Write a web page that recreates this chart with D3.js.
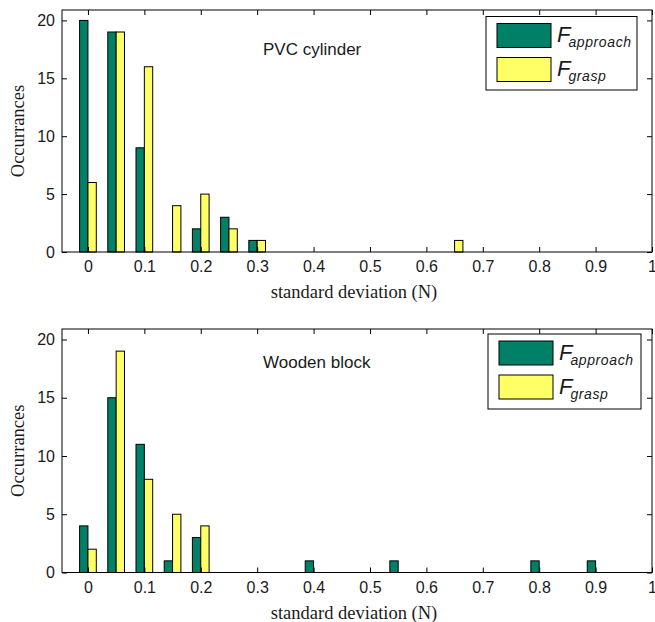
<!DOCTYPE html>
<html lang="en">
  <head>
    <meta charset="UTF-8" />
    <title>Standard deviation histograms</title>
    <script src="https://cdnjs.cloudflare.com/ajax/libs/d3/7.8.5/d3.min.js"></script>
    <style>
      body { margin: 0; background: #fff; }
      svg text { fill: #1a1a1a; }
      .tick-label { font-family: "Liberation Sans", Arial, sans-serif; font-size: 16px; }
      .axis-label { font-family: "Liberation Serif", "Times New Roman", serif; font-size: 18.5px; }
      .panel-title { font-family: "Liberation Sans", Arial, sans-serif; font-size: 17px; }
      .legend-text { font-family: "Liberation Sans", Arial, sans-serif; font-style: italic; }
    </style>
  </head>

  <body>
    <div id="chart"></div>

    <script>
      /** Data */
      const bins = [0, 0.05, 0.1, 0.15, 0.2, 0.25, 0.3, 0.35, 0.4, 0.45, 0.5,
                    0.55, 0.6, 0.65, 0.7, 0.75, 0.8, 0.85, 0.9, 0.95, 1.0];
      const pvcApproach = [20, 19, 9, 0, 2, 3, 1, 0, 0, 0, 0, 0, 0, 0, 0, 0, 0, 0, 0, 0, 0];
      const pvcGrasp    = [6, 19, 16, 4, 5, 2, 1, 0, 0, 0, 0, 0, 0, 1, 0, 0, 0, 0, 0, 0, 0];
      const woodApproach = [4, 15, 11, 1, 3, 0, 0, 0, 1, 0, 0, 1, 0, 0, 0, 0, 1, 0, 1, 0, 0];
      const woodGrasp    = [2, 19, 8, 5, 4, 0, 0, 0, 0, 0, 0, 0, 0, 0, 0, 0, 0, 0, 0, 0, 0];
      const xTicks = [0, 0.1, 0.2, 0.3, 0.4, 0.5, 0.6, 0.7, 0.8, 0.9, 1];
      const yTicks = [0, 5, 10, 15, 20];
      const seriesNames = ["approach", "grasp"];
      const panelTitles = ["PVC cylinder", "Wooden block"];

      /** Graph configs */
      const width = 655;
      const height = 622;
      const colors = ["#008066", "#ffff66"];
      const barW = 0.0148; // width of one bar in data units
      const tickLen = 5;

      const panels = [
        { title: panelTitles[0], series: [pvcApproach, pvcGrasp], top: 10, bottom: 252, titleY: 55,
          legend: { x: 486, y: 16.5, w: 151, h: 73.5 } },
        { title: panelTitles[1], series: [woodApproach, woodGrasp], top: 329, bottom: 572.5, titleY: 368,
          legend: { x: 488, y: 334, w: 153, h: 75 } },
      ];
      const left = 62;
      const right = 652;

      const svg = d3.select("#chart").append("svg")
        .attr("width", width).attr("height", height);

      panels.forEach((p) => {
        const x = d3.scaleLinear().domain([-0.046, 1]).range([left, right]);
        const y = d3.scaleLinear().domain([0, 20.9]).range([p.bottom, p.top]);
        const g = svg.append("g");

        /** Bars */
        p.series.forEach((vals, si) => {
          const data = bins.map((b, i) => ({ b, v: vals[i] })).filter((d) => d.v > 0);
          g.append("g").selectAll("rect").data(data).enter().append("rect")
            .attr("x", (d) => x(si === 0 ? d.b - barW : d.b))
            .attr("width", (d) => x(d.b + barW) - x(d.b))
            .attr("y", (d) => y(d.v))
            .attr("height", (d) => y(0) - y(d.v))
            .attr("fill", colors[si])
            .attr("stroke", "#000")
            .attr("stroke-width", 1);
        });

        /** Axes: ticks inward on all four sides */
        const axBottom = d3.axisBottom(x).tickValues(xTicks).tickSizeInner(-tickLen).tickSizeOuter(0)
          .tickPadding(9).tickFormat((d) => d3.format("")(d));
        const axTop = d3.axisTop(x).tickValues(xTicks).tickSizeInner(-tickLen).tickSizeOuter(0).tickFormat("");
        const axLeft = d3.axisLeft(y).tickValues(yTicks).tickSizeInner(-tickLen).tickSizeOuter(0).tickPadding(7);
        const axRight = d3.axisRight(y).tickValues(yTicks).tickSizeInner(-tickLen).tickSizeOuter(0).tickFormat("");

        [[axBottom, `translate(0,${p.bottom})`], [axTop, `translate(0,${p.top})`],
         [axLeft, `translate(${left},0)`], [axRight, `translate(${right},0)`]].forEach(([ax, t]) => {
          const a = g.append("g").attr("transform", t).call(ax);
          a.select(".domain").remove();
          a.selectAll("line").attr("stroke", "#000");
          a.selectAll("text").attr("class", "tick-label").attr("fill", "#1a1a1a")
            .attr("font-family", null).attr("font-size", null);
        });

        g.append("rect")
          .attr("x", left).attr("y", p.top)
          .attr("width", right - left).attr("height", p.bottom - p.top)
          .attr("fill", "none").attr("stroke", "#000");

        /** Panel title */
        g.append("text").attr("class", "panel-title")
          .attr("x", 263).attr("y", p.titleY)
          .text(p.title);

        /** Axis labels */
        g.append("text").attr("class", "axis-label")
          .attr("text-anchor", "middle")
          .attr("x", 354).attr("y", p.bottom + 46)
          .text("standard deviation (N)");
        g.append("text").attr("class", "axis-label")
          .attr("text-anchor", "middle")
          .attr("transform", `translate(24,${(p.top + p.bottom) / 2}) rotate(-90)`)
          .text("Occurrances");

        /** Legend */
        const L = p.legend;
        const lg = g.append("g").attr("transform", `translate(${L.x},${L.y})`);
        lg.append("rect").attr("width", L.w).attr("height", L.h)
          .attr("fill", "#fff").attr("stroke", "#000");
        seriesNames.forEach((name, i) => {
          const row = lg.append("g").attr("transform", `translate(11,${7 + i * 34})`);
          row.append("rect").attr("width", 54).attr("height", 24)
            .attr("fill", colors[i]).attr("stroke", "#000");
          const t = row.append("text").attr("class", "legend-text")
            .attr("x", 60).attr("y", 18.5);
          t.append("tspan").attr("font-size", 22).text("F");
          t.append("tspan").attr("font-size", 14).attr("dx", -2).attr("dy", 5)
            .attr("letter-spacing", 0.6).text(name);
        });
      });
    </script>
  </body>
</html>
